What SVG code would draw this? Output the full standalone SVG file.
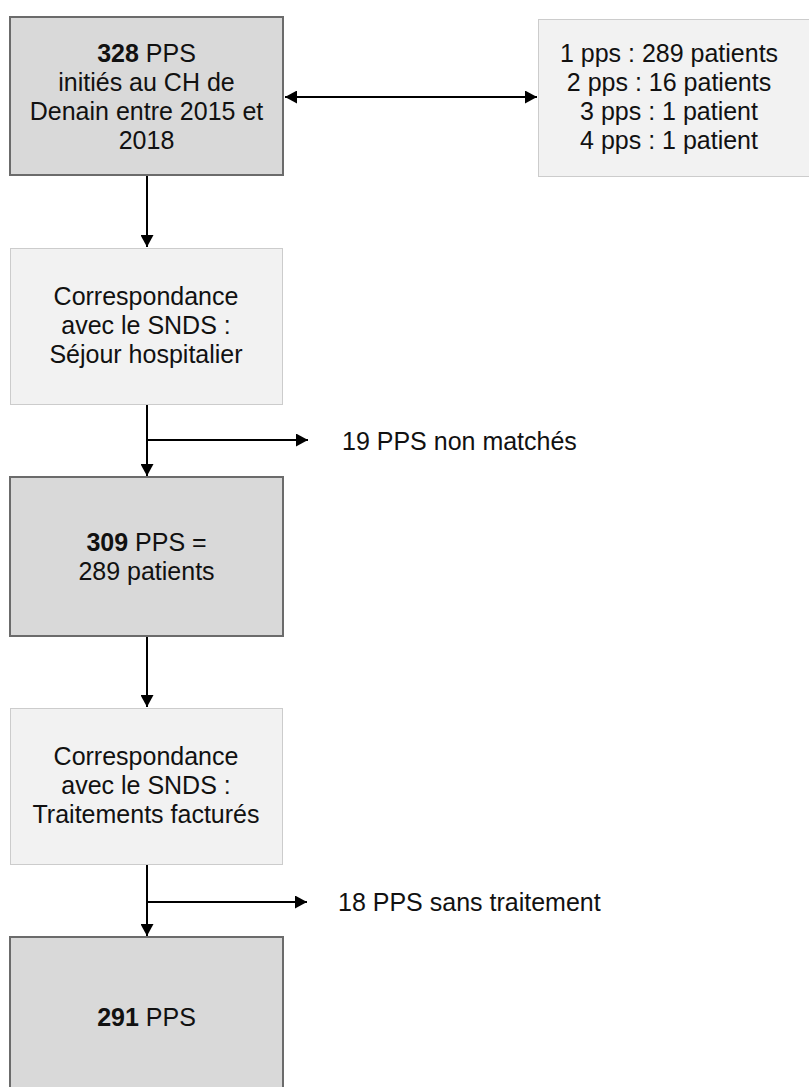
<svg xmlns="http://www.w3.org/2000/svg" width="809" height="1087" viewBox="0 0 809 1087">
<style>
.dark{fill:#d9d9d9;stroke:#6b6b6b;stroke-width:2}
.light{fill:#f2f2f2;stroke:#cccccc;stroke-width:1}
text{font-family:"Liberation Sans",Arial,sans-serif;font-size:25px;fill:#111}
.c{text-anchor:middle}
.b{font-weight:bold}
.conn{stroke:#000;stroke-width:2;fill:none}
</style>
<defs>
<marker id="ah" markerUnits="userSpaceOnUse" markerWidth="13" markerHeight="13" refX="12" refY="6.5" orient="auto-start-reverse">
<path d="M0,0 L12,6.5 L0,13 Z" fill="#000"/>
</marker>
</defs>
<rect x="0" y="0" width="809" height="1087" fill="#fff"/>
<g id="connectors">
<line class="conn" x1="285" y1="97" x2="537" y2="97" marker-start="url(#ah)" marker-end="url(#ah)"/>
<line class="conn" x1="147" y1="176" x2="147" y2="247" marker-end="url(#ah)"/>
<line class="conn" x1="147" y1="404" x2="147" y2="476" marker-end="url(#ah)"/>
<line class="conn" x1="147" y1="440" x2="308" y2="440" marker-end="url(#ah)"/>
<line class="conn" x1="147" y1="636" x2="147" y2="707" marker-end="url(#ah)"/>
<line class="conn" x1="147" y1="864" x2="147" y2="936" marker-end="url(#ah)"/>
<line class="conn" x1="147" y1="902" x2="307" y2="902" marker-end="url(#ah)"/>
</g>
<g id="n1">
<rect class="dark" x="10" y="17" width="273" height="158"/>
<text class="c" x="146.5" y="62"><tspan class="b">328</tspan> PPS</text>
<text class="c" x="146.5" y="91">initiés au CH de</text>
<text class="c" x="146.5" y="120">Denain entre 2015 et</text>
<text class="c" x="146.5" y="149">2018</text>
</g>
<g id="n2">
<rect class="light" x="538.5" y="19.5" width="280" height="157"/>
<text class="c" x="669" y="62">1 pps : 289 patients</text>
<text class="c" x="669" y="91">2 pps : 16 patients</text>
<text class="c" x="669" y="120">3 pps : 1 patient</text>
<text class="c" x="669" y="149">4 pps : 1 patient</text>
</g>
<g id="n3">
<rect class="light" x="10.5" y="248.5" width="272" height="156"/>
<text class="c" x="146" y="305">Correspondance</text>
<text class="c" x="146" y="334">avec le SNDS :</text>
<text class="c" x="146" y="363">Séjour hospitalier</text>
</g>
<g id="n4">
<text x="342" y="450">19 PPS non matchés</text>
</g>
<g id="n5">
<rect class="dark" x="10" y="477" width="273" height="159"/>
<text class="c" x="146.5" y="551"><tspan class="b">309</tspan> PPS =</text>
<text class="c" x="146.5" y="580">289 patients</text>
</g>
<g id="n6">
<rect class="light" x="10.5" y="708.5" width="272" height="156"/>
<text class="c" x="146" y="765">Correspondance</text>
<text class="c" x="146" y="794">avec le SNDS :</text>
<text class="c" x="146" y="823">Traitements facturés</text>
</g>
<g id="n7">
<text x="338" y="911">18 PPS sans traitement</text>
</g>
<g id="n8">
<rect class="dark" x="10" y="937" width="273" height="160"/>
<text class="c" x="146.5" y="1026"><tspan class="b">291</tspan> PPS</text>
</g>
</svg>
